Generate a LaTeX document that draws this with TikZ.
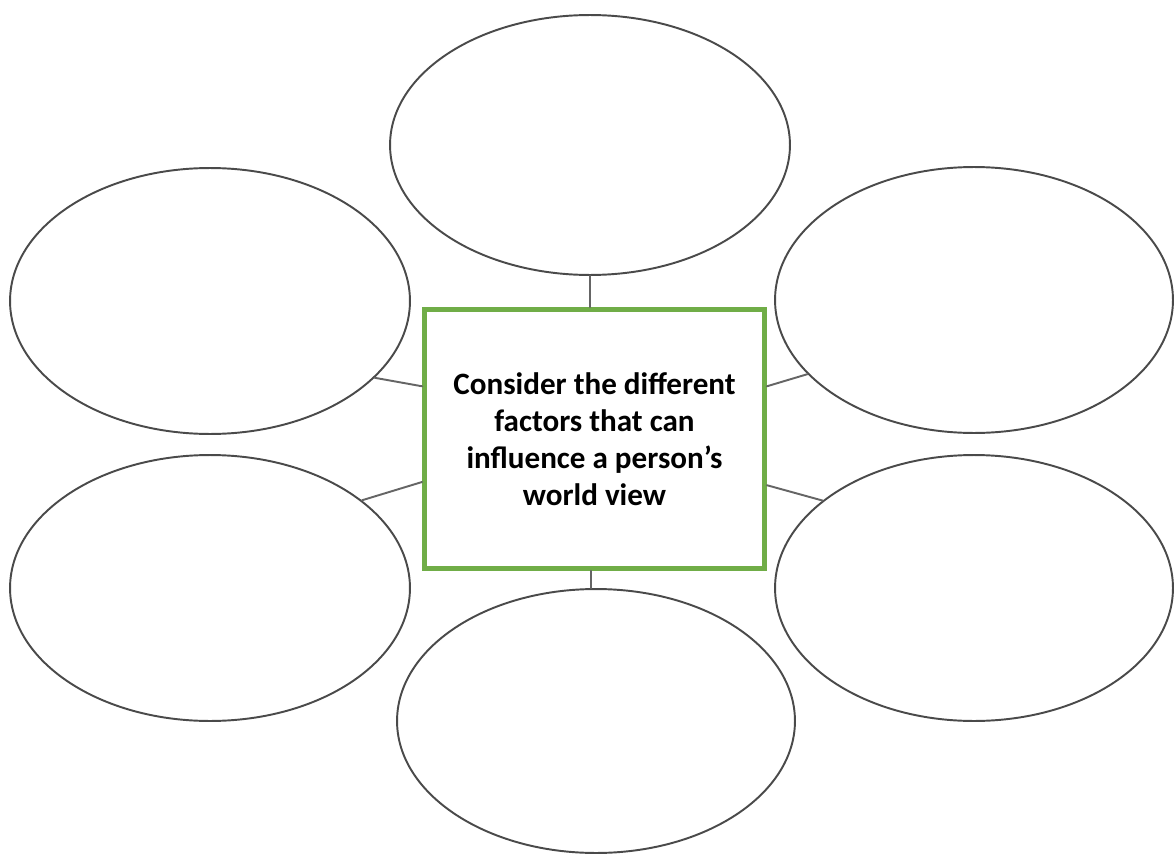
\documentclass[tikz,border=0pt]{standalone}
\usepackage{fontspec}
\setmainfont{Carlito}
\usetikzlibrary{shapes.geometric}
\definecolor{boxgreen}{HTML}{70AD47}
\definecolor{rimgray}{HTML}{4A4A4A}

\begin{document}
\begin{tikzpicture}[x=0.02cm,y=-0.02cm]
\tikzset{
  bubble/.style={ellipse,draw=rimgray,line width=1.1pt,inner sep=0pt,minimum width=8cm,minimum height=5.32cm},
  centerbox/.style={rectangle,draw=boxgreen,line width=2.8pt,inner sep=0pt,minimum width=6.8cm,minimum height=5.18cm,
    align=center,font=\fontsize{17.7}{21}\selectfont\bfseries},
  spoke/.style={draw=rimgray!85,line width=1.1pt,line cap=round}
}
\useasboundingbox (0,0) rectangle (1176,855);
\node[bubble,minimum height=5.2cm] (b_top) at (590,145) {};
\node[bubble] (b_ul) at (210,301) {};
\node[bubble,minimum width=7.96cm] (b_ur) at (974,300) {};
\node[bubble] (b_ll) at (210,588) {};
\node[bubble,minimum width=7.96cm] (b_lr) at (974,588) {};
\node[bubble,minimum width=7.96cm,minimum height=5.28cm] (b_bot) at (596,721) {};
\node[centerbox,fill=white] (n_box) at (594.5,439) {Consider the different\\factors that can\\influence a person’s\\world view};
\draw[spoke] (b_top.south) -- (b_top.south |- n_box.north);
\draw[spoke] (b_bot.92) -- (b_bot.92 |- n_box.south);
\draw[spoke] (b_ul.-25) -- (n_box.163.6);
\draw[spoke] (b_ll.30) -- (n_box.194.8);
\draw[spoke] (b_ur.204.7) -- (n_box.17);
\draw[spoke] (b_lr.150.4) -- (n_box.-15.5);
\end{tikzpicture}
\end{document}
